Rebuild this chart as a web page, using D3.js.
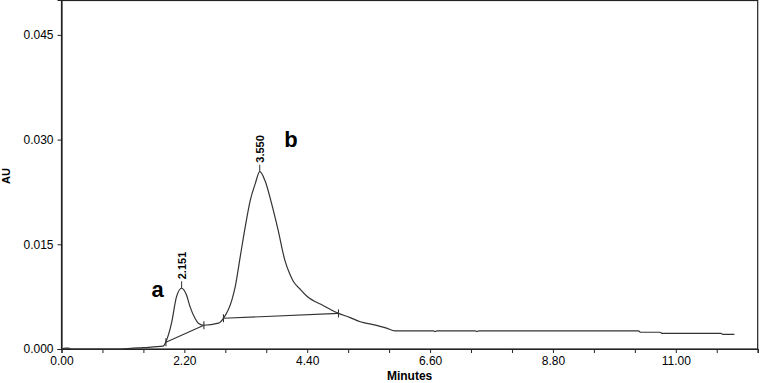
<!DOCTYPE html>
<html>
<head>
<meta charset="utf-8">
<script src="https://cdn.jsdelivr.net/npm/d3@7"></script>
<style>
  body { margin: 0; background: #fff; }
  svg { display: block; font-family: "Liberation Sans", Arial, sans-serif; }
</style>
</head>
<body>
<script>
// chromatogram trace, minutes vs AU
var times = [0.00, 0.07, 0.13, 0.16, 1.08, 1.24, 1.46, 1.82, 1.87, 1.97, 2.06, 2.151, 2.24, 2.30, 2.39, 2.45,
             2.55, 2.81, 2.90, 3.05, 3.11, 3.20, 3.29, 3.38, 3.47, 3.55, 3.64, 3.76, 3.88, 4.00, 4.09, 4.15,
             4.27, 4.39, 4.69, 4.96, 5.17, 5.35, 5.58, 5.82, 5.97, 6.66, 6.69, 6.72, 7.41, 7.44, 7.47,
             10.33, 10.37, 10.72, 10.75, 11.81, 11.84, 12.05];
var absorbance = [0, 0.00012, 0.00012, 0, 0, 0.0001, 0.0002, 0.0004, 0.00105, 0.0037, 0.0075, 0.0087, 0.0077, 0.0061, 0.0044, 0.0037,
                  0.0034, 0.0037, 0.0044, 0.0070, 0.0089, 0.0132, 0.0175, 0.0213, 0.0237, 0.0254, 0.0242, 0.0209, 0.0170, 0.0127, 0.0107, 0.0097,
                  0.0086, 0.0076, 0.0062, 0.0051, 0.0045, 0.0039, 0.0035, 0.0030, 0.0026, 0.0026, 0.0025, 0.0026, 0.0026, 0.0025, 0.0026,
                  0.0026, 0.0024, 0.0024, 0.00225, 0.00225, 0.0021, 0.0021];

// integration baselines under each peak
var baselineTimes = [[1.87, 2.55], [2.90, 4.96]];
var baselineValues = [[0.00096, 0.0034], [0.0044, 0.0051]];

var peakTimes = [2.151, 3.550];
var peakValues = [0.0087, 0.0254];
var peakLabels = ["2.151", "3.550"];
var peakNames = ["a", "b"];

var yTicks = [0, 0.015, 0.030, 0.045];
var xLabelStep = 2.2;

function init() {
    var w = 761, h = 383;
    var left = 61.5, right = 757.7, top = 0.5, bottom = 349;

    var svg = d3.select("body").append("svg")
                .attr("width", w)
                .attr("height", h);

    var x = d3.scaleLinear().domain([0, 17 * xLabelStep / 3]).range([left, right]);
    var y = d3.scaleLinear().domain([0, 0.05]).range([bottom, 0]);

    // frame
    svg.append("rect")
       .attr("x", left).attr("y", top)
       .attr("width", right - left).attr("height", bottom - top)
       .attr("fill", "none").attr("stroke", "#222").attr("stroke-width", 1.2);

    var xTickVals = d3.range(18).map(function(i) { return i * xLabelStep / 3; });
    var xAxis = d3.axisBottom(x)
                  .tickValues(xTickVals)
                  .tickSize(4).tickPadding(3)
                  .tickFormat(function(d, i) { return i % 3 === 0 ? d3.format(".2f")(d) : ""; });
    var gx = svg.append("g").attr("transform", "translate(0," + bottom + ")").call(xAxis);

    var yAxis = d3.axisLeft(y)
                  .tickValues(yTicks)
                  .tickSize(4).tickPadding(4)
                  .tickFormat(d3.format(".3f"));
    var gy = svg.append("g").attr("transform", "translate(" + left + ",0)").call(yAxis);

    [gx, gy].forEach(function(g) {
        g.select(".domain").attr("stroke", "#222").attr("stroke-width", 1.2);
        g.selectAll(".tick line").attr("stroke", "#222");
        g.selectAll(".tick text").attr("fill", "#000").style("font-size", "12px");
    });

    // axis titles
    svg.append("text")
       .attr("x", (left + right) / 2).attr("y", 380)
       .attr("text-anchor", "middle")
       .style("font-size", "12px").style("font-weight", "bold")
       .text("Minutes");
    svg.append("text")
       .attr("transform", "translate(10,176) rotate(-90)")
       .attr("text-anchor", "middle")
       .style("font-size", "11px").style("font-weight", "bold")
       .text("AU");

    // trace
    var pts = times.map(function(t, i) { return [t, absorbance[i]]; });
    var line = d3.line()
                 .x(function(d) { return x(d[0]); })
                 .y(function(d) { return y(d[1]); });
    var smooth = d3.line()
                   .curve(d3.curveMonotoneX)
                   .x(function(d) { return x(d[0]); })
                   .y(function(d) { return y(d[1]); });
    svg.append("path")
       .datum(pts)
       .attr("d", smooth)
       .attr("fill", "none")
       .attr("stroke", "#333")
       .attr("stroke-width", 1.2);

    // baselines with drop marks
    baselineTimes.forEach(function(bt, i) {
        var seg = [[bt[0], baselineValues[i][0]], [bt[1], baselineValues[i][1]]];
        svg.append("path")
           .datum(seg)
           .attr("d", line)
           .attr("fill", "none")
           .attr("stroke", "#333")
           .attr("stroke-width", 1.1);
        seg.forEach(function(p) {
            svg.append("line")
               .attr("x1", x(p[0])).attr("x2", x(p[0]))
               .attr("y1", y(p[1]) - 4).attr("y2", y(p[1]) + 4)
               .attr("stroke", "#333").attr("stroke-width", 1.1);
        });
    });

    // peak retention labels and letters
    var nameOffsets = [[-30, 9], [24.5, -25]];
    peakTimes.forEach(function(t, i) {
        var px = x(t), py = y(peakValues[i]);
        svg.append("line")
           .attr("x1", px).attr("x2", px)
           .attr("y1", py).attr("y2", py - 7)
           .attr("stroke", "#333").attr("stroke-width", 1);
        svg.append("text")
           .attr("transform", "translate(" + (px + 4) + "," + (py - 9) + ") rotate(-90)")
           .attr("text-anchor", "start")
           .style("font-size", "11px").style("font-weight", "bold")
           .text(peakLabels[i]);
        svg.append("text")
           .attr("x", px + nameOffsets[i][0]).attr("y", py + nameOffsets[i][1])
           .style("font-size", "22px").style("font-weight", "bold")
           .text(peakNames[i]);
    });
}
window.onload = init;
</script>
</body>
</html>
